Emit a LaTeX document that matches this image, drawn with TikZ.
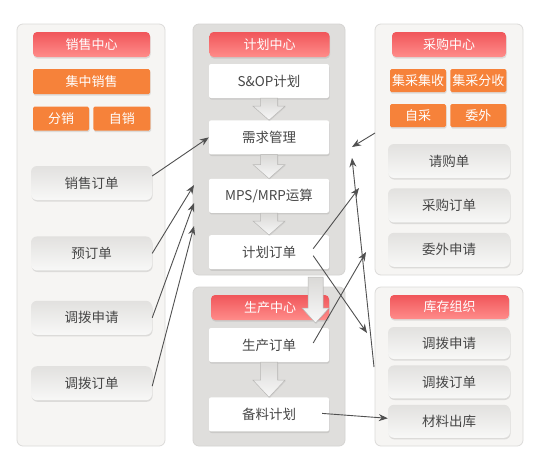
\documentclass[tikz,border=0pt]{standalone}
\usepackage{fontspec}
\setmainfont{Noto Sans CJK SC}
\usetikzlibrary{positioning, shadows, arrows.meta, calc}
\definecolor{hdrtop}{HTML}{F0565A}
\definecolor{hdrbot}{HTML}{FF8C8A}
\definecolor{orng}{HTML}{F6823A}
\definecolor{panelbg}{HTML}{F6F5F3}
\definecolor{panelln}{HTML}{DCDBD9}
\definecolor{midbg}{HTML}{DFDEDC}
\definecolor{midln}{HTML}{D5D4D2}
\definecolor{btntop}{HTML}{E2E1DF}
\definecolor{btnbot}{HTML}{F8F8F7}
\definecolor{txt}{HTML}{474747}
\definecolor{linkc}{HTML}{505050}
\definecolor{flowtop}{HTML}{DAD9D7}
\definecolor{flowbot}{HTML}{F8F8F8}
\definecolor{flowln}{HTML}{B9B8B6}
\tikzset{x = 1pt, y = -1pt,
         >= {Stealth[length = 9pt, width = 7pt]},
         sh/.style = {drop shadow = {shadow xshift = .6pt, shadow yshift = -1.6pt, opacity = .22}},
         panel/.style = {rounded corners = 6pt, fill = panelbg, draw = panelln, line width = .8pt},
         midpanel/.style = {rounded corners = 6pt, fill = midbg, draw = midln, line width = .8pt},
         hdr/.style = {sh, rounded corners = 4pt, top color = hdrtop, bottom color = hdrbot,
                       text = white, minimum height = 25pt, font = \fontsize{13}{15}\selectfont},
         tag/.style = {sh, rounded corners = 1.5pt, fill = orng, text = white, inner sep = 1pt,
                       minimum height = 24pt, font = \fontsize{13}{15}\selectfont},
         doc/.style = {sh, rounded corners = 6pt, top color = btntop, bottom color = btnbot,
                       text = txt, minimum width = 121pt, minimum height = 34pt,
                       font = \fontsize{13.5}{15}\selectfont},
         plan/.style = {sh, rounded corners = 2pt, fill = white, text = txt,
                        minimum width = 120pt, minimum height = 34pt,
                        font = \fontsize{13.5}{15}\selectfont},
         link/.style = {->, draw = linkc, line width = .9pt},
         flow/.style = {top color = flowtop, bottom color = flowbot, draw = flowln, line width = .5pt,
                        drop shadow = {shadow xshift = .8pt, shadow yshift = -.8pt, opacity = .15}}}
\newcommand{\flowarrow}[5]{%
  \path[flow] let \p1 = (#1), \p2 = (#2) in
    (\x1-#3,\y1) -- (\x1+#3,\y1) -- (\x1+#3,\y2+#5) -- (\x1+#4,\y2+#5) -- (\x1,\y2)
    -- (\x1-#4,\y2+#5) -- (\x1-#3,\y2+#5) -- cycle;}

\begin{document}
\begin{tikzpicture}
    \useasboundingbox[fill = white] (0,0) rectangle (546,475);

    \draw[panel]    (17,24)  rectangle (165,446);
    \draw[midpanel] (193,24) rectangle (345,275);
    \draw[midpanel] (193,287) rectangle (345,446);
    \draw[panel]    (375,24) rectangle (523,275);
    \draw[panel]    (375,287) rectangle (523,446);

    \node[hdr, minimum width = 117pt]                       (salesh)  at (91.5,44.5)  {销售中心};
    \node[tag, minimum width = 117pt, minimum height = 25pt] (central) at (91.5,81.5)  {集中销售};
    \node[tag, minimum width = 56pt]                        (dist)    at (61,118.5)   {分销};
    \node[tag, minimum width = 57pt]                        (selfs)   [right = 4pt of dist] {自销};
    \node[doc]                                              (so)      at (91.5,183)   {销售订单};
    \node[doc]                                              (pre)     [below = 36pt of so]  {预订单};
    \node[doc]                                              (tr1)     [below = 30pt of pre] {调拨申请};
    \node[doc]                                              (tr2)     [below = 31pt of tr1] {调拨订单};

    \node[hdr, minimum width = 120pt]                       (planh)   at (269.5,44.5) {计划中心};
    \node[plan]                                             (sop)     at (269,81)     {S\&OP计划};
    \node[plan]                                             (dem)     [below = 22pt of sop] {需求管理};
    \node[plan]                                             (mps)     [below = 24pt of dem] {MPS/MRP运算};
    \node[plan]                                             (plo)     [below = 22pt of mps] {计划订单};

    \node[hdr, minimum width = 118pt]                       (prodh)   at (270,307.5)  {生产中心};
    \node[plan]                                             (ordp)    at (269,345)    {生产订单};
    \node[plan]                                             (bl)      [below = 35pt of ordp] {备料计划};

    \node[hdr, minimum width = 114pt]                       (purh)    at (449,44.5)   {采购中心};
    \node[tag, minimum width = 56pt, minimum height = 23pt] (jsj)     at (418,80.5)   {集采集收};
    \node[tag, minimum width = 56pt, minimum height = 23pt] (jsf)     [right = 4pt of jsj] {集采分收};
    \node[tag, minimum width = 56pt, minimum height = 23pt] (selfp)   at (418,115.5)  {自采};
    \node[tag, minimum width = 56pt, minimum height = 23pt] (outs)    [right = 4pt of selfp] {委外};
    \node[doc, minimum width = 122pt]                       (pr)      at (449,161)    {请购单};
    \node[doc, minimum width = 122pt]                       (po)      [below = 10pt of pr] {采购订单};
    \node[doc, minimum width = 122pt]                       (ow)      [below = 10pt of po] {委外申请};

    \node[hdr, minimum width = 119pt, minimum height = 24pt] (invh)   at (449.5,307)  {库存组织};
    \node[doc, minimum width = 122pt, minimum height = 32pt] (ir)     at (449,343)    {调拨申请};
    \node[doc, minimum width = 122pt, minimum height = 33pt] (io)     [below = 6pt of ir] {调拨订单};
    \node[doc, minimum width = 122pt, minimum height = 33pt] (ml)     [below = 6pt of io] {材料出库};

    \flowarrow{sop.south}{dem.north}{8.5pt}{16pt}{14pt}
    \flowarrow{dem.south}{mps.north}{8.5pt}{16pt}{14pt}
    \flowarrow{mps.south}{plo.north}{8.5pt}{16pt}{14pt}
    \flowarrow{ordp.south}{bl.north}{8.5pt}{16pt}{17pt}
    \coordinate (bigtop) at (315.5,277);
    \coordinate (bigtip) at (315.5,323);
    \flowarrow{bigtop}{bigtip}{7.5pt}{13.5pt}{15pt}

    \coordinate (p1) at (194,185);
    \coordinate (p2) at (194,203);
    \coordinate (p3) at (194,226);
    \coordinate (c1) at (375,133);
    \coordinate (c2) at (352,147);
    \coordinate (c3) at (374,367);
    \coordinate (c4) at (352,158);
    \coordinate (c5) at (359,188);
    \coordinate (c6) at (367,333);
    \coordinate (c7) at (366,252);

    \draw[link] ([yshift = 7pt]so.east) -- (dem.west);
    \draw[link] (pre.east) -- (p1);
    \draw[link] (tr1.east) -- (p2);
    \draw[link] ([yshift = -3pt]tr2.east) -- (p3);
    \draw[link] (c1) -- (c2);
    \draw[link] (c3) -- (c4);
    \draw[link] ([xshift = -16pt, yshift = 3.5pt]plo.east) -- (c5);
    \draw[link] ([xshift = -16pt, yshift = -3.5pt]plo.east) -- (c6);
    \draw[link] ([xshift = -16pt, yshift = 2pt]ordp.east) -- (c7);
    \draw[link] ([xshift = -7pt, yshift = 1pt]bl.east) -- ([yshift = 3pt]ml.west);
\end{tikzpicture}
\end{document}
